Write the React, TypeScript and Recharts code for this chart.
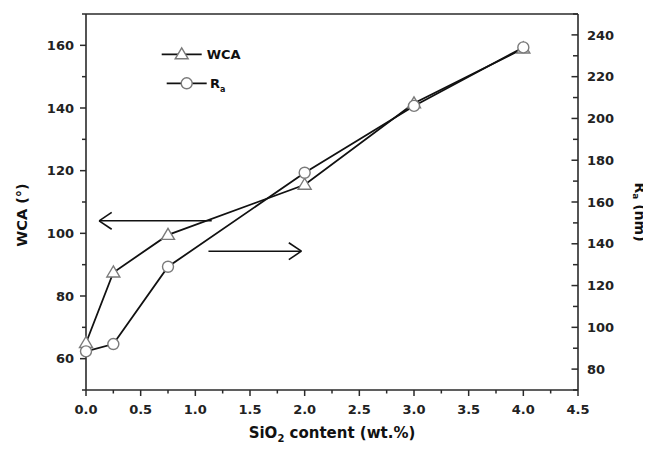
import React from 'react';
import {
  ComposedChart,
  Line,
  XAxis,
  YAxis,
  ReferenceLine,
  Customized,
} from 'recharts';

// SiO2 loading (wt.%)
const sio2Content = [0, 0.25, 0.75, 2, 3, 4];
// Water contact angle (degrees), left axis
const wcaValues = [65, 87.5, 99.5, 115.5, 141.5, 159];
// Average roughness Ra (nm), right axis
const raValues = [88.5, 92, 129, 174, 206, 234];

const xTicks = [0, 0.25, 0.5, 0.75, 1, 1.25, 1.5, 1.75, 2, 2.25, 2.5, 2.75, 3, 3.25, 3.5, 3.75, 4, 4.25, 4.5];
const wcaTicks = [50, 60, 70, 80, 90, 100, 110, 120, 130, 140, 150, 160, 170];
const raTicks = [70, 80, 90, 100, 110, 120, 130, 140, 150, 160, 170, 180, 190, 200, 210, 220, 230, 240, 250];

const data = sio2Content.map((x, i) => ({ x, wca: wcaValues[i], ra: raValues[i] }));

const FONT = '"DejaVu Sans", sans-serif';
const AXIS = '#2a2a2a';
const MARK = '#7a7a7a';

const XTick = (props: any) => {
  const { x, y, payload } = props;
  const v = payload.value as number;
  const major = Math.abs(v * 2 - Math.round(v * 2)) < 1e-6;
  return (
    <g>
      <line x1={x} x2={x} y1={y} y2={y + (major ? 6 : 3.5)} stroke={AXIS} strokeWidth={1.5} />
      {major && (
        <text x={x} y={y + 24} textAnchor="middle" fontFamily={FONT} fontWeight="bold" fontSize={13} fill="#222">
          {v.toFixed(1)}
        </text>
      )}
    </g>
  );
};

const WcaTick = (props: any) => {
  const { x, y, payload } = props;
  const v = payload.value as number;
  const major = v % 20 === 0;
  return (
    <g>
      <line x1={x} x2={x - (major ? 6 : 4)} y1={y} y2={y} stroke={AXIS} strokeWidth={1.5} />
      {major && (
        <text x={x - 12} y={y + 4.7} textAnchor="end" fontFamily={FONT} fontWeight="bold" fontSize={13} fill="#222">
          {v}
        </text>
      )}
    </g>
  );
};

const RaTick = (props: any) => {
  const { x, y, payload } = props;
  const v = payload.value as number;
  const major = v % 20 === 0;
  return (
    <g>
      <line x1={x} x2={x - (major ? 6.5 : 5)} y1={y} y2={y} stroke={AXIS} strokeWidth={1.5} />
      {major && (
        <text x={x + 9} y={y + 4.7} textAnchor="start" fontFamily={FONT} fontWeight="bold" fontSize={13} fill="#222">
          {v}
        </text>
      )}
    </g>
  );
};

const TriangleDot = (props: any) => {
  const { cx, cy } = props;
  if (cx == null || cy == null) return <g />;
  const pts = `${cx},${cy - 6.5} ${cx - 6.5},${cy + 4.5} ${cx + 6.5},${cy + 4.5}`;
  return <polygon points={pts} fill="#fff" stroke={MARK} strokeWidth={1.4} />;
};

const CircleDot = (props: any) => {
  const { cx, cy } = props;
  if (cx == null || cy == null) return <g />;
  return <circle cx={cx} cy={cy} r={5.5} fill="#fff" stroke={MARK} strokeWidth={1.4} />;
};

// Legend and axis titles drawn as one overlay layer
const Overlay = () => (
  <g>
    <line x1={153.7} x2={193.7} y1={46.3} y2={46.3} stroke="#111" strokeWidth={1.8} />
    <TriangleDot cx={173.7} cy={46.3} />
    <text x={198.7} y={51} fontFamily={FONT} fontWeight="bold" fontSize={13} fill="#111">WCA</text>

    <line x1={158.7} x2={198.7} y1={75.3} y2={75.3} stroke="#111" strokeWidth={1.8} />
    <CircleDot cx={178.7} cy={75.3} />
    <text x={202} y={80} fontFamily={FONT} fontWeight="bold" fontSize={13} fill="#111">
      R<tspan fontSize={8} dy={4}>a</tspan>
    </text>

    <text
      x={14}
      y={207}
      transform="rotate(-90, 14, 207)"
      textAnchor="middle"
      dominantBaseline="central"
      fontFamily={FONT}
      fontWeight="bold"
      fontSize={14.5}
      fill="#111"
    >
      WCA (°)
    </text>

    <text
      x={632}
      y={204}
      transform="rotate(90, 632, 204)"
      textAnchor="middle"
      dominantBaseline="central"
      fontFamily={FONT}
      fontWeight="bold"
      fontSize={14}
      fill="#111"
    >
      R<tspan fontSize={9} dy={4}>a</tspan>
      <tspan dy={-4}> (nm)</tspan>
    </text>

    <text x={324} y={430} textAnchor="middle" fontFamily={FONT} fontWeight="bold" fontSize={15} fill="#111">
      SiO<tspan fontSize={10} dy={4}>2</tspan>
      <tspan dy={-4}> content (wt.%)</tspan>
    </text>
  </g>
);

export default function App() {
  return (
    <ComposedChart
      width={643}
      height={441}
      data={data}
      margin={{ top: 6, right: 18, bottom: 19, left: 18 }}
    >
      <XAxis
        dataKey="x"
        type="number"
        domain={[0, 4.5]}
        ticks={xTicks}
        interval={0}
        height={40}
        tickSize={0}
        tickMargin={0}
        tickLine={false}
        tick={<XTick />}
        axisLine={{ stroke: AXIS, strokeWidth: 1.6 }}
      />
      <YAxis
        yAxisId="wca"
        orientation="left"
        type="number"
        domain={[50, 170]}
        ticks={wcaTicks}
        interval={0}
        width={60}
        tickSize={0}
        tickMargin={0}
        tickLine={false}
        tick={<WcaTick />}
        axisLine={{ stroke: AXIS, strokeWidth: 1.6 }}
      />
      <YAxis
        yAxisId="ra"
        orientation="right"
        type="number"
        domain={[70, 250]}
        ticks={raTicks}
        interval={0}
        width={55}
        tickSize={0}
        tickMargin={0}
        tickLine={false}
        tick={<RaTick />}
        axisLine={{ stroke: AXIS, strokeWidth: 1.6 }}
      />

      {/* top frame */}
      <ReferenceLine yAxisId="wca" y={170} stroke={AXIS} strokeWidth={1.6} />

      {/* arrow pointing to the WCA axis */}
      <ReferenceLine yAxisId="wca" segment={[{ x: 0.12, y: 104 }, { x: 1.15, y: 104 }]} stroke="#111" strokeWidth={1.6} />
      <ReferenceLine yAxisId="wca" segment={[{ x: 0.12, y: 104 }, { x: 0.235, y: 106.7 }]} stroke="#111" strokeWidth={1.6} />
      <ReferenceLine yAxisId="wca" segment={[{ x: 0.12, y: 104 }, { x: 0.235, y: 101.3 }]} stroke="#111" strokeWidth={1.6} />

      {/* arrow pointing to the Ra axis */}
      <ReferenceLine yAxisId="wca" segment={[{ x: 1.12, y: 94.3 }, { x: 1.97, y: 94.3 }]} stroke="#111" strokeWidth={1.6} />
      <ReferenceLine yAxisId="wca" segment={[{ x: 1.97, y: 94.3 }, { x: 1.855, y: 97.0 }]} stroke="#111" strokeWidth={1.6} />
      <ReferenceLine yAxisId="wca" segment={[{ x: 1.97, y: 94.3 }, { x: 1.855, y: 91.6 }]} stroke="#111" strokeWidth={1.6} />

      <Line
        yAxisId="wca"
        dataKey="wca"
        type="linear"
        stroke="#111"
        strokeWidth={1.8}
        dot={<TriangleDot />}
        activeDot={false}
        isAnimationActive={false}
      />
      <Line
        yAxisId="ra"
        dataKey="ra"
        type="linear"
        stroke="#111"
        strokeWidth={1.8}
        dot={<CircleDot />}
        activeDot={false}
        isAnimationActive={false}
      />

      <Customized component={Overlay} />
    </ComposedChart>
  );
}
